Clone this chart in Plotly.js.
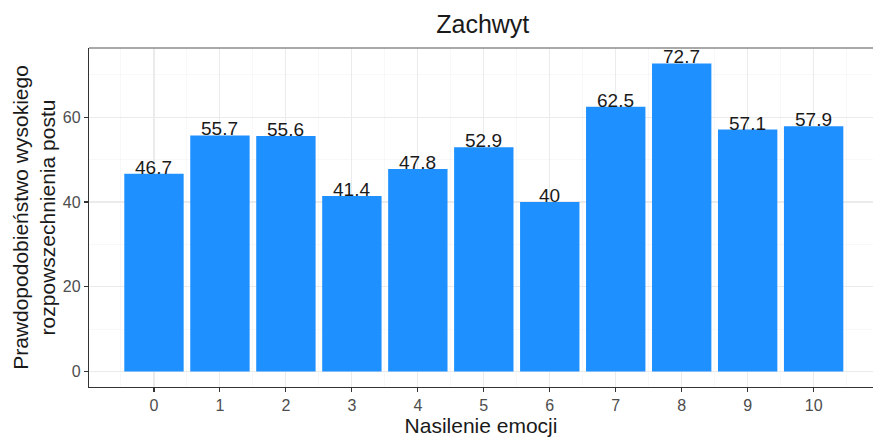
<!DOCTYPE html>
<html>
<head>
<meta charset="utf-8">
<script src="https://cdn.plot.ly/plotly-3.0.1.min.js"></script>
<style>html,body{margin:0;padding:0;background:#fff;}#chart{width:873px;height:439px;}</style>
</head>
<body>
<div id="chart"></div>
<script>
const categories = [0, 1, 2, 3, 4, 5, 6, 7, 8, 9, 10];
const values = [46.7, 55.7, 55.6, 41.4, 47.8, 52.9, 40, 62.5, 72.7, 57.1, 57.9];
const labels = ["46.7", "55.7", "55.6", "41.4", "47.8", "52.9", "40", "62.5", "72.7", "57.1", "57.9"];
const yTicks = [0, 20, 40, 60];

const font = "Liberation Sans, Arial, sans-serif";

const trace = {
  type: "bar",
  x: categories,
  y: values,
  width: 0.9,
  marker: {color: "#1E90FF", line: {width: 0}},
  hoverinfo: "skip"
};

const annotations = categories.map((c, i) => ({
  x: c, y: values[i], xref: "x", yref: "y",
  text: labels[i], showarrow: false,
  yanchor: "bottom", yshift: -6,
  font: {family: font, size: 19, color: "#1a1a1a"}
}));

const layout = {
  width: 873, height: 439,
  margin: {l: 89, r: 0, t: 48, b: 52},
  paper_bgcolor: "#fff", plot_bgcolor: "#fff",
  showlegend: false,
  title: {text: "Zachwyt", x: 0.553, xanchor: "center", y: 0.945, yanchor: "middle",
          font: {family: font, size: 25, color: "#1a1a1a"}},
  xaxis: {
    range: [-0.985, 10.9],
    tickvals: categories, ticktext: categories.map(String),
    ticks: "outside", ticklen: 4, tickcolor: "#333", tickwidth: 1.1,
    tickfont: {family: font, size: 16, color: "#4d4d4d"},
    showline: true, linecolor: "#333", linewidth: 1.2,
    showgrid: true, gridcolor: "#ebebeb", gridwidth: 1.1,
    minor: {tickvals: categories.map(c => c + 0.5).concat([-0.5]), showgrid: true, gridcolor: "#f4f4f4", gridwidth: 0.6, ticks: ""},
    zeroline: false, fixedrange: true,
    title: {text: "Nasilenie emocji", standoff: 4, font: {family: font, size: 21, color: "#1a1a1a"}}
  },
  yaxis: {
    range: [-3.635, 76.335],
    tickvals: yTicks,
    ticks: "outside", ticklen: 4, tickcolor: "#333", tickwidth: 1.1,
    tickfont: {family: font, size: 16, color: "#4d4d4d"},
    showline: true, linecolor: "#333", linewidth: 1.2,
    showgrid: true, gridcolor: "#ebebeb", gridwidth: 1.1,
    minor: {tickvals: [10, 30, 50, 70], showgrid: true, gridcolor: "#f4f4f4", gridwidth: 0.6, ticks: ""},
    zeroline: false, fixedrange: true,
    title: {text: "Prawdopodobieństwo wysokiego<br>rozpowszechnienia postu", standoff: 1,
            font: {family: font, size: 21, color: "#1a1a1a"}}
  },
  shapes: [{type: "line", xref: "paper", yref: "paper", x0: 0, x1: 1, y0: 1, y1: 1,
            line: {color: "#8c8c8c", width: 1.5}}],
  annotations: annotations
};

Plotly.newPlot("chart", [trace], layout, {displayModeBar: false, staticPlot: true});
</script>
</body>
</html>
